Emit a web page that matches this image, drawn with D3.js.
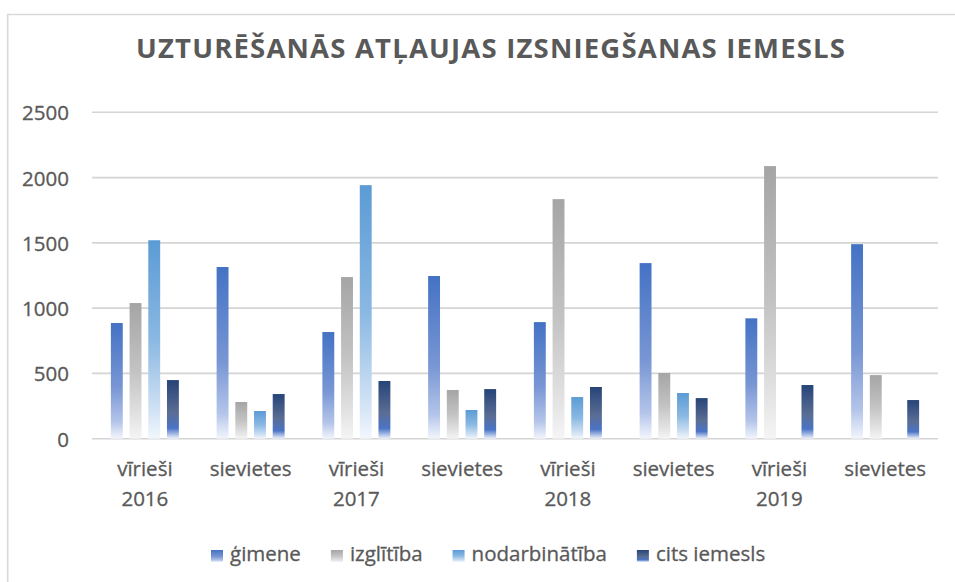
<!DOCTYPE html>
<html>
<head>
<meta charset="utf-8">
<script src="https://cdn.jsdelivr.net/npm/d3@7"></script>
<style>
  html, body { margin: 0; padding: 0; background: #fff; }
  svg { display: block; font-family: "Open Sans", sans-serif; }
  .lbl { stroke: #595959; stroke-width: 0.3px; }
</style>
</head>
<body>
<svg width="955" height="582"></svg>
<script>
const title = "UZTURĒŠANĀS ATĻAUJAS IZSNIEGŠANAS IEMESLS";
const categories = ["vīrieši 2016", "sievietes", "vīrieši 2017", "sievietes",
                    "vīrieši 2018", "sievietes", "vīrieši 2019", "sievietes"];
const seriesNames = ["ģimene", "izglītība", "nodarbinātība", "cits iemesls"];
const gimene        = [886, 1315, 817, 1246, 893, 1345, 922, 1490];
const izglitiba     = [1039, 281, 1238, 373, 1835, 503, 2088, 487];
const nodarbinatiba = [1520, 212, 1942, 220, 319, 350, 0, 0];
const cits          = [449, 342, 442, 380, 396, 311, 411, 296];
const yTicks = [0, 500, 1000, 1500, 2000, 2500];

const seriesValues = [gimene, izglitiba, nodarbinatiba, cits];

// gradient stops per series (top -> bottom)
const gradients = [
  [["0%", "#4472C4"], ["55%", "#7896d4"], ["85%", "#b3c4e9"], ["100%", "#f2f5fc"]],
  [["0%", "#A5A5A5"], ["50%", "#c3c3c3"], ["85%", "#e4e4e4"], ["100%", "#f5f5f5"]],
  [["0%", "#5B9BD5"], ["50%", "#8ab8e2"], ["85%", "#cfe1f4"], ["100%", "#f2f7fc"]],
  [["0%", "#264478"], ["55%", "#5a6d94"], ["82%", "#4a74c6"], ["100%", "#eef2fb"]]
];

const svg = d3.select("svg");
const textColor = "#595959";

// chart border (left and top visible)
svg.append("path")
  .attr("d", "M7.7,582V14.5H955")
  .attr("fill", "none")
  .attr("stroke", "#d9d9d9")
  .attr("stroke-width", 1.6);

const defs = svg.append("defs");
gradients.forEach((stops, i) => {
  const g = defs.append("linearGradient")
    .attr("id", "grad" + i)
    .attr("x1", 0).attr("y1", 0).attr("x2", 0).attr("y2", 1);
  stops.forEach(([o, c]) => g.append("stop").attr("offset", o).attr("stop-color", c));
});

const x0 = d3.scaleBand().domain(d3.range(categories.length)).range([92, 938]).padding(0);
const y = d3.scaleLinear().domain([0, 2500]).range([438.7, 112.3]);

const groupW = 68;
const x1 = d3.scaleBand().domain(d3.range(seriesNames.length))
  .range([0, groupW]).paddingInner(0.364).paddingOuter(0);

// title
svg.append("text")
  .attr("x", 136).attr("y", 58)
  .attr("fill", textColor)
  .attr("font-size", 27.5)
  .attr("font-weight", "bold")
  .attr("textLength", 709)
  .attr("lengthAdjust", "spacing")
  .text(title);

// gridlines
svg.append("g")
  .selectAll("line")
  .data(yTicks)
  .enter().append("line")
  .attr("x1", 92).attr("x2", 938)
  .attr("y1", d => y(d)).attr("y2", d => y(d))
  .attr("stroke", "#d4d4d4")
  .attr("stroke-width", 1.6);

// y labels
svg.append("g")
  .selectAll("text")
  .data(yTicks)
  .enter().append("text")
  .attr("class", "lbl")
  .attr("x", 69)
  .attr("y", d => y(d) + 8)
  .attr("text-anchor", "end")
  .attr("fill", textColor)
  .attr("font-size", 20.5)
  .text(d => d);

// bars
const groups = svg.append("g")
  .selectAll("g")
  .data(categories.map((c, i) => i))
  .enter().append("g")
  .attr("transform", i => `translate(${x0(i) + x0.bandwidth() / 2 - groupW / 2},0)`);

groups.selectAll("rect")
  .data(i => seriesValues.map((vals, s) => ({ s, v: vals[i] })))
  .enter().append("rect")
  .filter(d => d.v > 0)
  .attr("x", d => x1(d.s))
  .attr("width", x1.bandwidth())
  .attr("y", d => y(d.v))
  .attr("height", d => y(0) - y(d.v))
  .attr("fill", d => `url(#grad${d.s})`);

// x labels
const xl = svg.append("g")
  .selectAll("text")
  .data(categories)
  .enter().append("text")
  .attr("class", "lbl")
  .attr("x", (d, i) => x0(i) + x0.bandwidth() / 2)
  .attr("y", 476)
  .attr("text-anchor", "middle")
  .attr("fill", textColor)
  .attr("font-size", 20.5);

xl.each(function(d) {
  const lines = d.split(" ");
  const t = d3.select(this);
  const cx = t.attr("x");
  lines.forEach((ln, k) => {
    t.append("tspan").attr("x", cx).attr("y", 476 + k * 30).text(ln);
  });
});

// legend
const legend = svg.append("g");
let lx = 211;
seriesNames.forEach((name, i) => {
  legend.append("rect")
    .attr("x", lx).attr("y", 550)
    .attr("width", 12).attr("height", 12)
    .attr("fill", `url(#grad${i})`);
  const t = legend.append("text")
    .attr("class", "lbl")
    .attr("x", lx + 19).attr("y", 561)
    .attr("fill", textColor)
    .attr("font-size", 20.5)
    .text(name);
  lx += 19 + t.node().getComputedTextLength() + 30;
});
</script>
</body>
</html>
